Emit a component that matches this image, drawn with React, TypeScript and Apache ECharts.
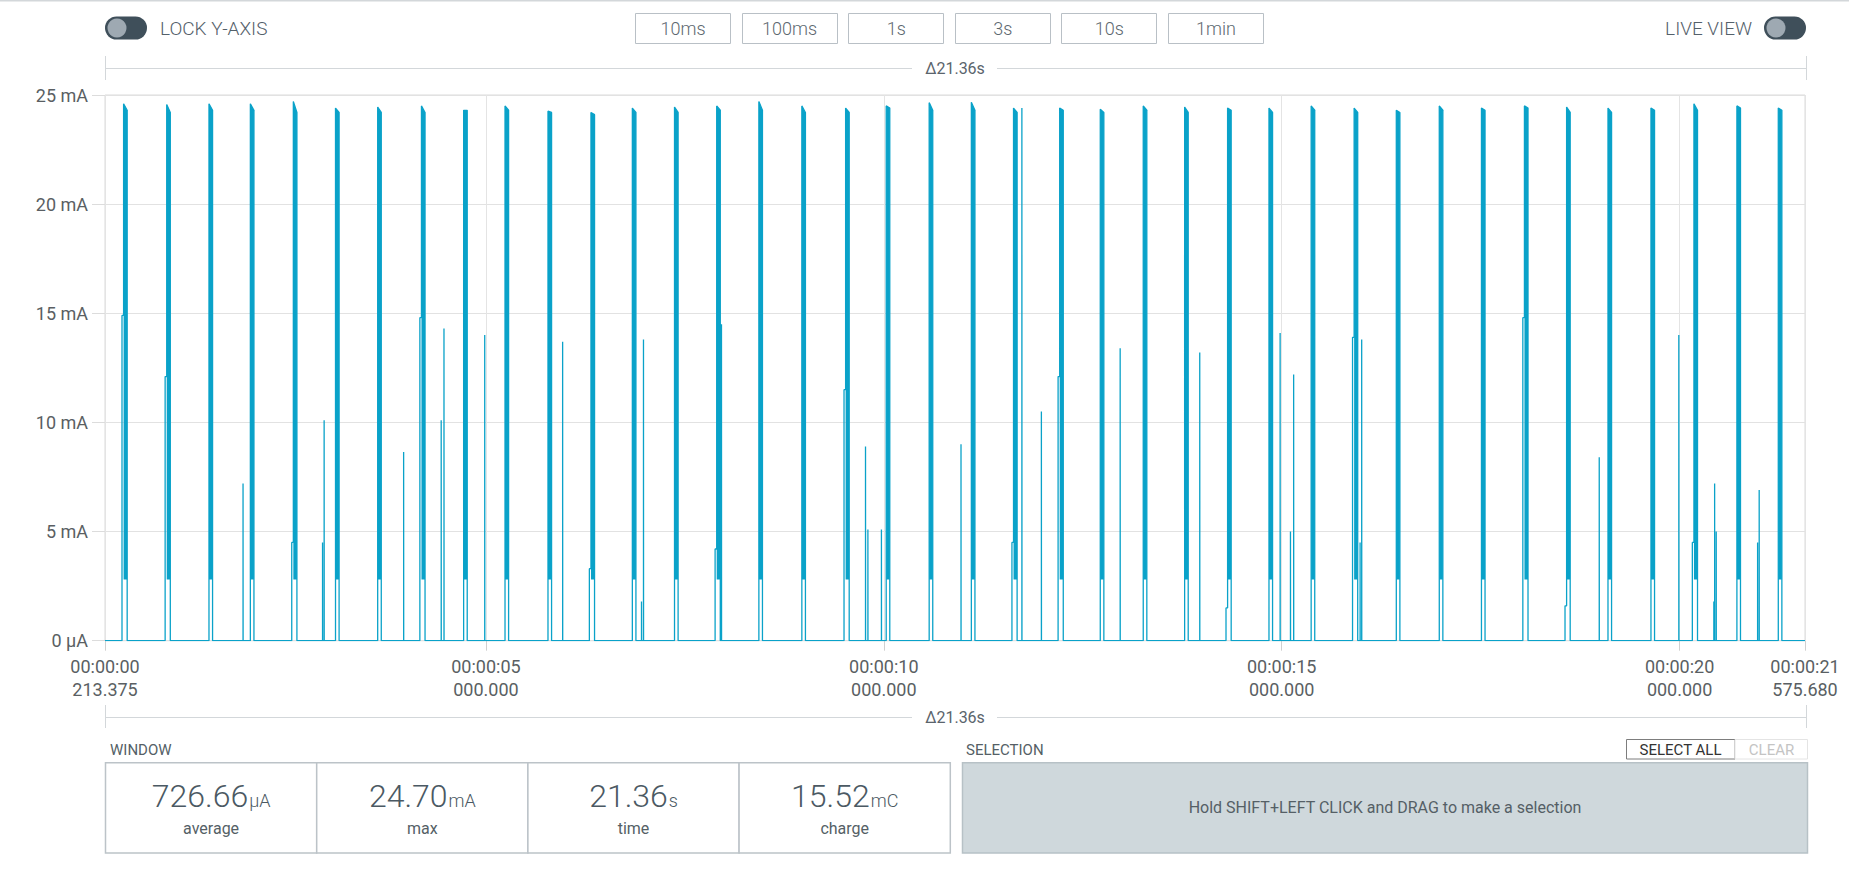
import React, { useEffect, useRef } from 'react';
import * as echarts from 'echarts';

// ---------- data ----------
const X_MIN = 0.213375;
const X_MAX = 21.57568;
const xTickValues = [X_MIN, 5, 10, 15, 20, X_MAX];
const xTickLabels = [
  '00:00:00\n213.375',
  '00:00:05\n000.000',
  '00:00:10\n000.000',
  '00:00:15\n000.000',
  '00:00:20\n000.000',
  '00:00:21\n575.680',
];
const yTickValues = [0, 5, 10, 15, 20, 25];
const yTickLabels = ['0 µA', '5 mA', '10 mA', '15 mA', '20 mA', '25 mA'];

// radio bursts (s, mA)
const pulseStart = [
  0.447, 0.989, 1.52, 2.04, 2.58, 3.11, 3.64, 4.19, 4.72, 5.24, 5.78, 6.32,
  6.84, 7.37, 7.9, 8.43, 8.97, 9.52, 10.03, 10.57, 11.1, 11.63, 12.21, 12.72,
  13.26, 13.78, 14.32, 14.84, 15.37, 15.91, 16.44, 16.98, 17.51, 18.05, 18.58,
  19.1, 19.64, 20.18, 20.72, 21.24,
];
const pulsePeak = [
  24.6, 24.56, 24.6, 24.6, 24.7, 24.4, 24.45, 24.5, 24.3, 24.5, 24.26, 24.2,
  24.4, 24.45, 24.5, 24.7, 24.5, 24.4, 24.5, 24.65, 24.67, 24.4, 24.4, 24.35,
  24.5, 24.45, 24.4, 24.4, 24.5, 24.4, 24.3, 24.5, 24.4, 24.5, 24.45, 24.4,
  24.4, 24.6, 24.5, 24.4,
];
// level at the end of each burst (top slightly lower than the leading peak)
const pulseEnd = [
  24.3, 24.2, 24.3, 24.3, 24.2, 24.2, 24.2, 24.2, 24.3, 24.3, 24.2, 24.1,
  24.2, 24.2, 24.3, 24.3, 24.2, 24.2, 24.4, 24.3, 24.3, 24.2, 24.3, 24.2,
  24.3, 24.2, 24.3, 24.2, 24.3, 24.2, 24.2, 24.3, 24.3, 24.4, 24.2, 24.2,
  24.3, 24.3, 24.4, 24.3,
];
const pulseLead = [
  14.9, 12.1, 0, 0, 4.5, 0, 0, 14.8, 0, 0, 0, 3.3, 0, 0, 4.2, 0, 0, 11.5, 0, 0,
  0, 4.5, 12.1, 0, 0, 0, 1.5, 0, 0, 13.9, 0, 0, 0, 14.8, 1.6, 0, 0, 4.5, 0, 0,
];
const BURST_WIDTH = 0.045; // s
const BURST_FLOOR = 2.8; // mA
const LEAD_OFFSET = 0.02; // s

// isolated spikes (s, mA)
const spikeTime = [
  1.948, 2.947, 2.967, 3.966, 4.438, 4.473, 4.985, 5.964, 6.955, 6.98, 7.96,
  9.77, 9.8, 9.97, 10.97, 11.735, 11.98, 12.97, 13.97, 14.98, 15.11, 15.15,
  15.985, 16.005, 18.99, 19.99, 20.43, 20.44, 20.46, 20.98, 21.0,
];
const spikeValue = [
  7.2, 4.5, 10.1, 8.65, 10.1, 14.3, 14.0, 13.7, 1.8, 13.8, 14.5, 8.9, 5.1, 5.1,
  9.0, 24.4, 10.5, 13.4, 13.2, 14.1, 5.0, 12.2, 4.5, 13.8, 8.4, 14.0, 1.8, 7.2,
  5.0, 4.5, 6.9,
];

const statValues = ['726.66', '24.70', '21.36', '15.52'];
const statUnits = ['µA', 'mA', 's', 'mC'];
const statNames = ['average', 'max', 'time', 'charge'];
const timeButtons = ['10ms', '100ms', '1s', '3s', '10s', '1min'];
const DELTA_LABEL = 'Δ21.36s';

// ---------- styling ----------
const FONT = 'Roboto, "Noto Sans", "DejaVu Sans", sans-serif';
const LINE_COLOR = '#0aa2c9';
const UI_TEXT = '#54606a';
const LABEL_TEXT = '#5a5f63';

const GRID_L = 105;
const GRID_R = 1805;
const GRID_T = 95;
const GRID_B = 640.7;

function buildLine(): number[][] {
  type Ev = { s: number; kind: 'p' | 's'; i: number };
  const evs: Ev[] = [];
  pulseStart.forEach((t, i) =>
    evs.push({ s: pulseLead[i] > 0 ? t - LEAD_OFFSET : t, kind: 'p', i })
  );
  spikeTime.forEach((t, i) => evs.push({ s: t, kind: 's', i }));
  evs.sort((a, b) => a.s - b.s);
  const pts: number[][] = [[X_MIN, 0]];
  for (const e of evs) {
    if (e.kind === 's') {
      const t = spikeTime[e.i];
      pts.push([t, 0], [t, spikeValue[e.i]], [t + 0.001, 0]);
    } else {
      const t = pulseStart[e.i];
      const lead = pulseLead[e.i];
      if (lead > 0) pts.push([t - LEAD_OFFSET, 0], [t - LEAD_OFFSET, lead], [t, lead]);
      else pts.push([t, 0]);
      pts.push(
        [t, pulsePeak[e.i]],
        [t + BURST_WIDTH, pulseEnd[e.i]],
        [t + BURST_WIDTH, 0]
      );
    }
  }
  pts.push([X_MAX, 0]);
  return pts;
}

function txt(
  x: number,
  y: number,
  text: string,
  size: number,
  fill: string,
  align: string = 'left',
  weight: number = 400
) {
  return {
    type: 'text',
    x,
    y,
    silent: true,
    style: {
      text,
      fill,
      fontSize: size,
      fontFamily: FONT,
      fontWeight: weight,
      align,
      verticalAlign: 'middle',
      textAlign: align,
      textVerticalAlign: 'middle',
    },
  };
}

function hline(x1: number, x2: number, y: number, color: string) {
  return {
    type: 'line',
    silent: true,
    shape: { x1, y1: y, x2, y2: y },
    style: { stroke: color, lineWidth: 1 },
  };
}
function vline(x: number, y1: number, y2: number, color: string) {
  return {
    type: 'line',
    silent: true,
    shape: { x1: x, y1, x2: x, y2 },
    style: { stroke: color, lineWidth: 1 },
  };
}

function toggle(x: number) {
  return [
    {
      type: 'rect',
      silent: true,
      shape: { x, y: 16.5, width: 42, height: 23, r: 11.5 },
      style: { fill: '#3f4f5a' },
    },
    {
      type: 'circle',
      silent: true,
      shape: { cx: x + 12, cy: 28, r: 9.5 },
      style: { fill: '#9ea9b2' },
    },
  ];
}

function deltaBar(y: number, tickTop: number, tickBottom: number) {
  const c = '#d3d7da';
  const mid = (GRID_L + GRID_R) / 2;
  return [
    hline(GRID_L + 0.5, mid - 43, y, c),
    hline(mid + 42, GRID_R + 2, y, c),
    vline(GRID_L + 0.5, tickTop, tickBottom, c),
    vline(GRID_R + 1.5, tickTop, tickBottom, c),
    txt(mid, y, DELTA_LABEL, 16, '#5a646c', 'center', 400),
  ];
}

function buildGraphics() {
  const g: any[] = [];
  // top border of the window
  g.push({ type: 'rect', silent: true, shape: { x: 0, y: 0, width: 1849, height: 1.5 }, style: { fill: '#d3d7da' } });

  // LOCK Y-AXIS
  g.push(...toggle(105));
  g.push(txt(160, 28, 'LOCK Y-AXIS', 19, UI_TEXT, 'left', 300));

  // time window buttons
  const btnX0 = 635;
  const btnPitch = 106.6;
  timeButtons.forEach((b, i) => {
    const x = btnX0 + i * btnPitch;
    g.push({
      type: 'rect',
      silent: true,
      shape: { x: Math.round(x) + 0.5, y: 13.5, width: 95, height: 30 },
      style: { fill: '#ffffff', stroke: '#b9c0c6', lineWidth: 1 },
    });
    g.push(txt(x + 48, 28.5, b, 18, '#5d6870', 'center', 300));
  });

  // LIVE VIEW
  g.push(txt(1752, 28, 'LIVE VIEW', 19, UI_TEXT, 'right', 300));
  g.push(...toggle(1764));

  // delta bars
  g.push(...deltaBar(68.5, 56, 80));
  g.push(...deltaBar(717.5, 705, 728));

  // WINDOW section
  g.push(txt(110, 750, 'WINDOW', 15, '#555f66', 'left', 400));
  const boxX0 = 105.5;
  const boxW = 211.2;
  for (let i = 0; i < 4; i++) {
    const x = boxX0 + i * boxW;
    g.push({
      type: 'rect',
      silent: true,
      shape: { x, y: 762.7, width: boxW, height: 90.3 },
      style: { fill: '#ffffff', stroke: '#bcc3c8', lineWidth: 1.5 },
    });
    g.push({
      type: 'text',
      silent: true,
      x: x + boxW / 2,
      y: 795,
      style: {
        text: `{v|${statValues[i]}}{u|${statUnits[i]}}`,
        align: 'center',
        verticalAlign: 'middle',
        textAlign: 'center',
        textVerticalAlign: 'middle',
        rich: {
          v: { fontSize: 32, fontFamily: FONT, fontWeight: 300, fill: '#4b5963', lineHeight: 34, verticalAlign: 'bottom' },
          u: { fontSize: 18, fontFamily: FONT, fontWeight: 300, fill: '#4b5963', lineHeight: 20, verticalAlign: 'bottom', padding: [0, 0, 3, 1] },
        },
      },
    });
    g.push(txt(x + boxW / 2, 828.5, statNames[i], 16, '#555f66', 'center', 400));
  }

  // SELECTION section
  g.push(txt(966, 750, 'SELECTION', 15, '#555f66', 'left', 400));
  g.push({
    type: 'rect',
    silent: true,
    shape: { x: 962.5, y: 762.7, width: 845, height: 90.3 },
    style: { fill: '#cfd8dc', stroke: '#b7c1c6', lineWidth: 1.5 },
  });
  g.push(txt(1385, 807, 'Hold SHIFT+LEFT CLICK and DRAG to make a selection', 16, '#555f66', 'center', 400));

  // SELECT ALL / CLEAR
  g.push({
    type: 'rect',
    silent: true,
    shape: { x: 1626.5, y: 739.5, width: 108.5, height: 19.5 },
    style: { fill: '#ffffff', stroke: '#7d7d7d', lineWidth: 1 },
  });
  g.push(txt(1680.5, 749.5, 'SELECT ALL', 15, '#333333', 'center', 400));
  g.push({
    type: 'rect',
    silent: true,
    shape: { x: 1735, y: 739.5, width: 72.5, height: 19.5 },
    style: { fill: '#ffffff', stroke: '#e4e4e4', lineWidth: 1 },
  });
  g.push(txt(1771.5, 749.5, 'CLEAR', 15, '#c4c4c4', 'center', 400));
  return g;
}

function buildOption(): any {
  const lineData = buildLine();
  const burstData = pulseStart.map((t, i) => [t, BURST_WIDTH, BURST_FLOOR, pulsePeak[i], pulseEnd[i]]);
  return {
    animation: false,
    backgroundColor: '#ffffff',
    textStyle: { fontFamily: FONT },
    grid: {
      left: GRID_L,
      right: 1849 - GRID_R,
      top: GRID_T,
      bottom: 870 - GRID_B,
      containLabel: false,
      outerBoundsMode: 'none',
      show: true,
      borderColor: '#dadada',
      borderWidth: 1,
      backgroundColor: 'transparent',
    },
    xAxis: {
      type: 'value',
      min: X_MIN,
      max: X_MAX,
      axisLine: { show: false },
      axisTick: {
        show: true,
        customValues: xTickValues,
        length: 10,
        lineStyle: { color: '#d0d0d0', width: 1 },
      },
      axisLabel: {
        show: true,
        customValues: xTickValues,
        formatter: (v: number) => {
          const i = xTickValues.findIndex((x) => Math.abs(x - v) < 1e-6);
          return i >= 0 ? xTickLabels[i] : '';
        },
        fontSize: 18,
        lineHeight: 23,
        color: LABEL_TEXT,
        fontFamily: FONT,
        margin: 14,
      },
      splitLine: { show: true, lineStyle: { color: '#e4e4e4', width: 1 } },
    },
    yAxis: {
      type: 'value',
      min: 0,
      max: 25,
      interval: 5,
      axisLine: { show: false },
      axisTick: { show: true, length: 13, lineStyle: { color: '#dcdcdc' } },
      axisLabel: {
        formatter: (v: number) => {
          const i = yTickValues.indexOf(v);
          return i >= 0 ? yTickLabels[i] : '';
        },
        fontSize: 18,
        color: LABEL_TEXT,
        fontFamily: FONT,
        margin: 17,
      },
      splitLine: { show: true, lineStyle: { color: '#e2e2e2', width: 1 } },
    },
    series: [
      {
        type: 'custom',
        name: 'burst',
        silent: true,
        clip: true,
        encode: { x: 0, y: 3 },
        data: burstData,
        z: 2,
        renderItem: (params: any, api: any) => {
          const t = api.value(0);
          const w = api.value(1);
          const lo = api.value(2);
          const hi = api.value(3);
          const he = api.value(4);
          const p1 = api.coord([t, lo]);
          const p2 = api.coord([t, hi]);
          const p3 = api.coord([t + w, he]);
          const p4 = api.coord([t + w, lo]);
          return {
            type: 'polygon',
            shape: { points: [p1, p2, p3, p4] },
            style: { fill: LINE_COLOR },
          };
        },
      },
      {
        type: 'line',
        name: 'current',
        data: lineData,
        showSymbol: false,
        symbol: 'none',
        silent: true,
        z: 3,
        lineStyle: { color: LINE_COLOR, width: 1.3 },
      },
    ],
    graphic: buildGraphics(),
  };
}

export default function App() {
  const ref = useRef<HTMLDivElement>(null);
  useEffect(() => {
    document.body.style.margin = '0';
    if (!ref.current) return;
    const chart = echarts.init(ref.current, null, { renderer: 'svg' });
    chart.setOption(buildOption());
    return () => {
      chart.dispose();
    };
  }, []);
  return <div ref={ref} style={{ width: 1849, height: 870 }} />;
}
